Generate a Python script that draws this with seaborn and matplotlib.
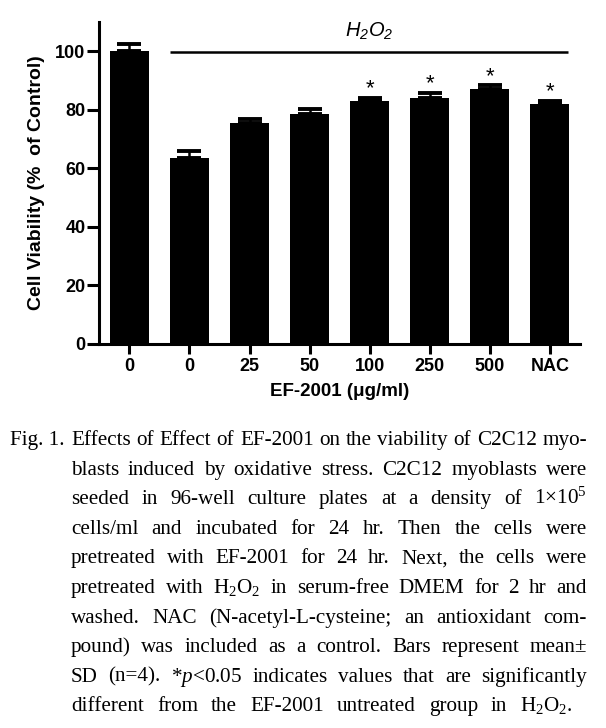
import matplotlib
matplotlib.use("Agg")
import matplotlib.pyplot as plt
import seaborn as sns
import pandas as pd
import numpy as np

# ---------------- data ----------------
groups = ["Control", "H2O2", "25", "50", "100", "250", "500", "NAC"]
tick_labels = ["0", "0", "25", "50", "100", "250", "500", "NAC"]
viability = [100.0, 63.5, 75.6, 78.5, 82.9, 83.9, 87.1, 82.0]
sd = [2.5, 2.4, 1.4, 1.7, 1.2, 2.0, 1.2, 1.1]
significant = [False, False, False, False, True, True, True, True]
h2o2_first, h2o2_last = 1, 7
y_ticks = [0, 20, 40, 60, 80, 100]

caption_label = "Fig. 1."
caption_lines = [
    "Effects of Effect of EF-2001 on the viability of C2C12 myo-",
    "blasts induced by oxidative stress. C2C12 myoblasts were",
    "seeded in 96-well culture plates at a density of 1×10$^5$",
    "cells/ml and incubated for 24 hr. Then the cells were",
    "pretreated with EF-2001 for 24 hr. Next, the cells were",
    "pretreated with H$_2$O$_2$ in serum-free DMEM for 2 hr and",
    "washed. NAC (N-acetyl-L-cysteine; an antioxidant com-",
    "pound) was included as a control. Bars represent mean±",
    "SD (n=4). *$p$<0.05 indicates values that are significantly",
    "different from the EF-2001 untreated group in H$_2$O$_2$.",
]

# ---------------- style ----------------
sns.set_theme(style="ticks")
plt.rcParams["font.family"] = ["Liberation Sans", "DejaVu Sans"]
plt.rcParams["mathtext.fontset"] = "custom"
plt.rcParams["mathtext.rm"] = "Liberation Serif"
plt.rcParams["mathtext.it"] = "Liberation Serif:italic"
plt.rcParams["mathtext.bf"] = "Liberation Serif:bold"
plt.rcParams["mathtext.sf"] = "Liberation Sans:italic"

W_px, H_px = 606, 728
fig = plt.figure(figsize=(W_px / 100, H_px / 100), dpi=100)
fig.patch.set_facecolor("white")

ax_left, ax_right, ax_top, ax_bottom = 99.3, 580.0, 22.0, 343.8
ax = fig.add_axes([ax_left / W_px, 1 - ax_bottom / H_px,
                   (ax_right - ax_left) / W_px, (ax_bottom - ax_top) / H_px])

df = pd.DataFrame({"group": groups, "viability": viability, "sd": sd})
bar_w = 0.65
sns.barplot(data=df, x="group", y="viability", order=groups, color="black",
            saturation=1, width=bar_w, errorbar=None, linewidth=0, ax=ax)
xpos = np.arange(len(groups))
ax.errorbar(xpos, df["viability"], yerr=[np.zeros(len(sd)), df["sd"]],
            fmt="none", ecolor="black", elinewidth=1.8, capsize=8.5,
            capthick=2.8, zorder=3)

# significance stars
for i, (v, s, sig) in enumerate(zip(viability, sd, significant)):
    if sig:
        ax.text(i, v + s + 1.2, "*", ha="center", va="baseline",
                fontsize=16, color="black", family=["Liberation Sans"])

# H2O2 bracket line and label
ax.plot([h2o2_first - bar_w / 2, h2o2_last + bar_w / 2 - 0.03], [99.7, 99.7],
        color="black", lw=1.8, solid_capstyle="butt", clip_on=False)
ax.text((h2o2_first + h2o2_last) / 2, 104.9, r"$\mathsf{H_2O_2}$",
        ha="center", va="baseline", fontsize=14.5, color="black")

ax.set_xlim(-0.5, len(groups) - 0.5)
ax.set_ylim(0, 110)
ax.set_yticks(y_ticks)
ax.set_yticklabels([str(t) for t in y_ticks])
ax.set_xticks(xpos)
ax.set_xticklabels(tick_labels)
for lab in ax.get_xticklabels() + ax.get_yticklabels():
    lab.set_fontweight("bold")
    lab.set_fontsize(13)
    lab.set_color("black")

sns.despine(ax=ax)
for sp in ["left", "bottom"]:
    ax.spines[sp].set_linewidth(2.2)
    ax.spines[sp].set_color("black")
ax.tick_params(axis="y", length=9, width=2.2, pad=1, colors="black")
ax.tick_params(axis="x", length=7, width=2.2, pad=3, colors="black")

ax.set_ylabel("Cell Viability (%  of Control)", fontsize=14, fontweight="bold", color="black")
ax.set_xlabel("EF-2001 (μg/ml)", fontsize=13.5, fontweight="bold", color="black")
ax.yaxis.set_label_coords(-0.112, 0.5)
ax.xaxis.set_label_coords(0.5, -0.122)

# ---------------- caption (justified) ----------------
serif = ["Liberation Serif", "DejaVu Serif"]
renderer = fig.canvas.get_renderer()
base0, step = 445.0, 29.6
left_px, right_px, last_right = 71.0, 587.0, 573.0


def word_widths(words, fs):
    ws = []
    for w in words:
        t = fig.text(0, 0, w, fontsize=fs, family=serif)
        ws.append(t.get_window_extent(renderer).width)
        t.remove()
    return ws


# choose the largest font size for which every line keeps a sensible word gap
cap_fs = 17.0
while cap_fs > 10:
    ok = True
    for k, line in enumerate(caption_lines):
        words = line.split(" ")
        r = right_px if k < len(caption_lines) - 1 else last_right
        gap = (r - left_px - sum(word_widths(words, cap_fs))) / (len(words) - 1)
        if gap < 0.24 * cap_fs * 100 / 72:
            ok = False
            break
    if ok:
        break
    cap_fs -= 0.2

fig.text(10 / W_px, 1 - base0 / H_px, caption_label, fontsize=cap_fs,
         family=serif, va="baseline", ha="left", color="black")

for k, line in enumerate(caption_lines):
    y = 1 - (base0 + k * step) / H_px
    words = line.split(" ")
    texts = [fig.text(0, y, w, fontsize=cap_fs, family=serif, va="baseline",
                      ha="left", color="black") for w in words]
    widths = [t.get_window_extent(renderer).width for t in texts]
    r = right_px if k < len(caption_lines) - 1 else last_right
    gap = (r - left_px - sum(widths)) / (len(words) - 1)
    x = left_px
    for t, w in zip(texts, widths):
        t.set_x(x / W_px)
        x += w + gap

fig.savefig("out.png", dpi=100, facecolor="white")
